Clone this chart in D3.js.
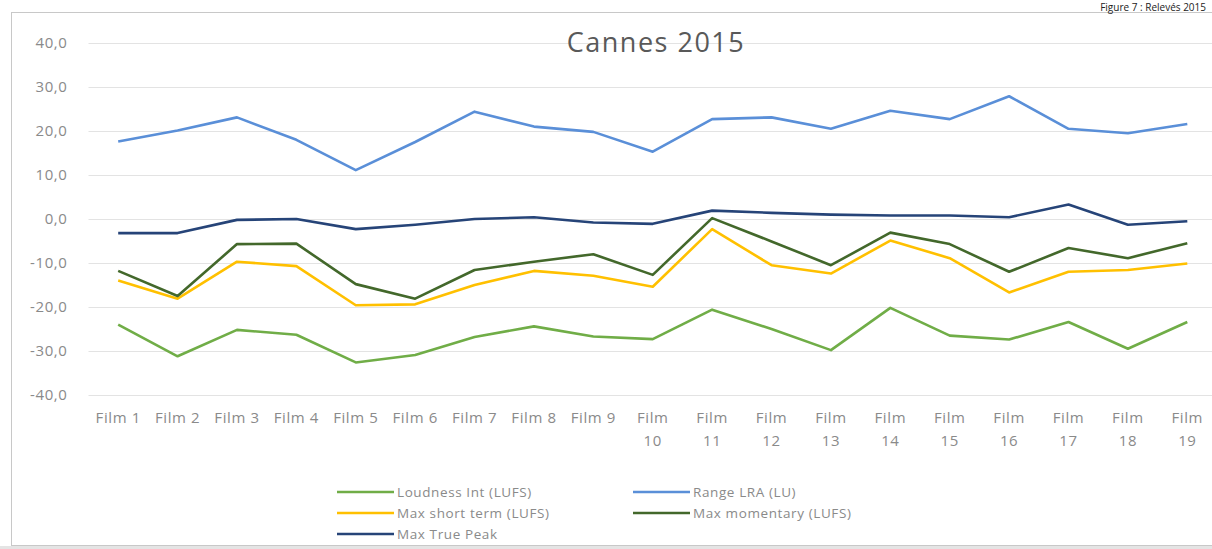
<!DOCTYPE html>
<html lang="fr">
<head>
  <meta charset="UTF-8">
  <title>Cannes 2015</title>
  <style>
    body { margin: 0; background: #fff; font-family: "Open Sans", sans-serif; }
    svg { display: block; }
    .grid line { stroke: #e3e3e3; }
    .grid path { display: none; }
    .axis path, .axis line { display: none; }
    .axis text { fill: #8a8a8a; font-size: 15px; font-family: "Open Sans", sans-serif; letter-spacing: 0.6px; }
  </style>
  <script src="https://d3js.org/d3.v7.min.js"></script>
</head>
<body>
<svg id="chart"></svg>
<script>
  // Data
  const films = ["Film 1","Film 2","Film 3","Film 4","Film 5","Film 6","Film 7","Film 8","Film 9","Film 10",
                 "Film 11","Film 12","Film 13","Film 14","Film 15","Film 16","Film 17","Film 18","Film 19"];
  const yTicks = [-40, -30, -20, -10, 0, 10, 20, 30, 40];

  const loudnessInt = [-24.0,-31.2,-25.2,-26.3,-32.6,-30.9,-26.8,-24.4,-26.7,-27.3,-20.6,-25.0,-29.8,-20.2,-26.5,-27.4,-23.4,-29.5,-23.4];
  const rangeLRA    = [17.6,20.1,23.1,18.0,11.1,17.5,24.4,21.0,19.8,15.3,22.7,23.1,20.5,24.6,22.7,27.9,20.5,19.5,21.6];
  const maxShort    = [-14.0,-18.1,-9.7,-10.7,-19.6,-19.4,-15.0,-11.8,-12.9,-15.4,-2.3,-10.5,-12.4,-4.9,-8.9,-16.7,-12.0,-11.6,-10.1];
  const maxMomentary= [-11.8,-17.5,-5.7,-5.6,-14.8,-18.1,-11.6,-9.7,-8.0,-12.7,0.2,-5.1,-10.5,-3.1,-5.7,-12.0,-6.6,-8.9,-5.5];
  const maxTruePeak = [-3.2,-3.2,-0.2,0.0,-2.3,-1.3,0.0,0.4,-0.8,-1.1,1.9,1.4,1.0,0.8,0.8,0.4,3.3,-1.3,-0.5];

  const series = [
    {name: "Loudness Int (LUFS)", values: loudnessInt, color: "#70ad47"},
    {name: "Range LRA (LU)", values: rangeLRA, color: "#5a8fd8"},
    {name: "Max short term (LUFS)", values: maxShort, color: "#ffc000"},
    {name: "Max momentary (LUFS)", values: maxMomentary, color: "#43682b"},
    {name: "Max True Peak", values: maxTruePeak, color: "#264478"}
  ];

  const W = 1212, H = 549;
  const svg = d3.select("#chart").attr("width", W).attr("height", H);

  // chart frame
  svg.append("rect")
    .attr("x", 11.5).attr("y", 12.5)
    .attr("width", 1220).attr("height", 533)
    .attr("fill", "#fff").attr("stroke", "#c8c8c8");
  svg.append("rect")
    .attr("x", 0).attr("y", 546)
    .attr("width", W).attr("height", 3)
    .attr("fill", "#e4e4e4");

  // caption above the frame
  svg.append("text")
    .attr("x", 1206).attr("y", 11)
    .attr("text-anchor", "end")
    .attr("font-size", 10).attr("fill", "#222")
    .text("Figure 7 : Relevés 2015");

  const plot = {left: 88.5, right: 1217, top: 43, bottom: 395};

  const x = d3.scaleBand().domain(films).range([plot.left, plot.right]);
  const y = d3.scaleLinear().domain([-40, 40]).range([plot.bottom, plot.top]);

  // gridlines
  svg.append("g")
    .attr("class", "grid")
    .attr("transform", `translate(${plot.left},0)`)
    .call(d3.axisLeft(y).tickValues(yTicks).tickSize(-(plot.right - plot.left)).tickFormat(""));

  // y axis
  svg.append("g")
    .attr("class", "axis")
    .attr("transform", `translate(${plot.left - 9},0)`)
    .call(d3.axisLeft(y).tickValues(yTicks).tickSize(0).tickPadding(12)
      .tickFormat(d => d3.format(".1f")(d).replace(".", ",").replace("−", "-")));

  // x axis with wrapped labels
  const xAxis = svg.append("g")
    .attr("class", "axis")
    .attr("transform", `translate(0,${plot.bottom})`)
    .call(d3.axisBottom(x).tickSize(0).tickPadding(17));
  xAxis.selectAll(".tick text").each(function(d) {
    const t = d3.select(this);
    const num = +d.split(" ")[1];
    if (num >= 10) {
      t.text(null);
      t.append("tspan").attr("x", 0).attr("dy", "0.71em").text("Film");
      t.append("tspan").attr("x", 0).attr("dy", "1.55em").text(num);
      t.attr("dy", null);
    }
  });

  // title
  svg.append("text")
    .attr("x", 656).attr("y", 52)
    .attr("text-anchor", "middle")
    .attr("font-size", 27).attr("fill", "#595959")
    .attr("letter-spacing", 1.5)
    .text("Cannes 2015");

  // lines
  const line = d3.line()
    .x((d, i) => x(films[i]) + x.bandwidth() / 2)
    .y(d => y(d));

  svg.selectAll(".series")
    .data(series)
    .join("path")
    .attr("class", "series")
    .attr("fill", "none")
    .attr("stroke", d => d.color)
    .attr("stroke-width", 2.6)
    .attr("stroke-linejoin", "round")
    .attr("d", d => line(d.values));

  // legend
  const legendPos = [[337, 492], [633, 492], [337, 513], [633, 513], [337, 534]];
  const legend = svg.selectAll(".legend")
    .data(series)
    .join("g")
    .attr("class", "legend")
    .attr("transform", (d, i) => `translate(${legendPos[i][0]},${legendPos[i][1]})`);
  legend.append("line")
    .attr("x1", 0).attr("x2", 57)
    .attr("stroke", d => d.color).attr("stroke-width", 2.6);
  legend.append("text")
    .attr("x", 60).attr("dy", "0.35em")
    .attr("font-size", 13.5).attr("fill", "#8a8a8a")
    .attr("letter-spacing", 0.6)
    .text(d => d.name);
</script>
</body>
</html>
